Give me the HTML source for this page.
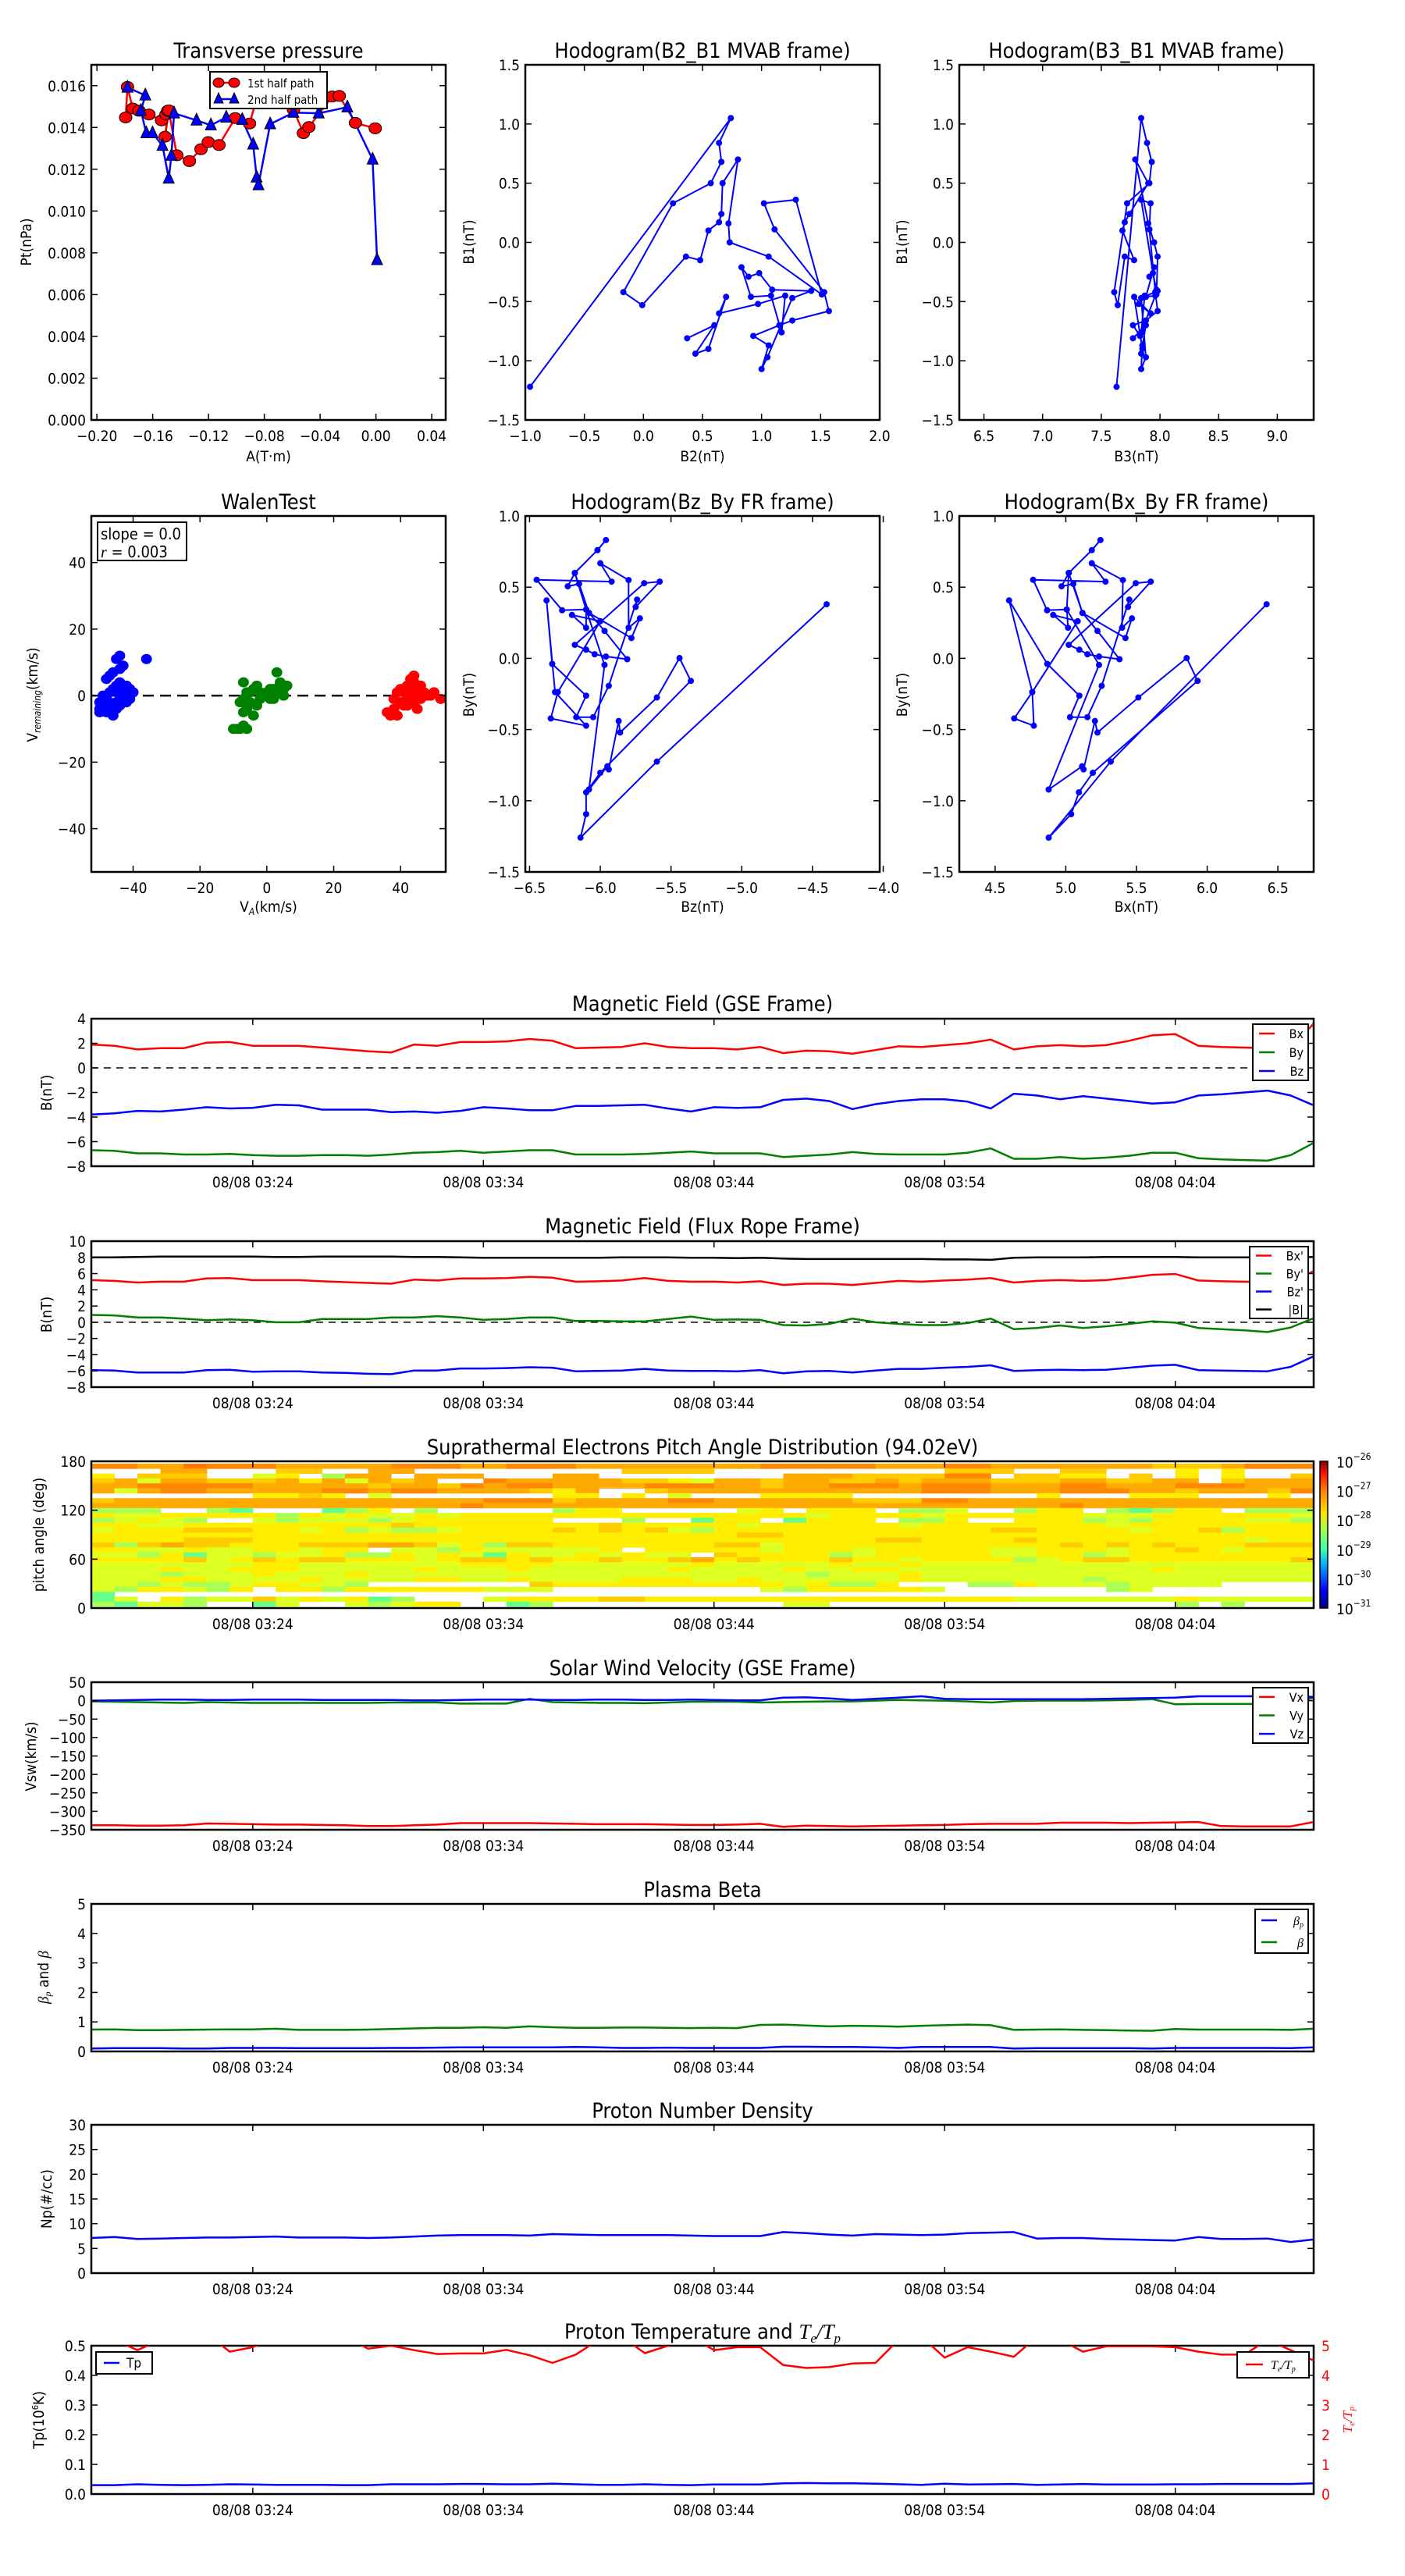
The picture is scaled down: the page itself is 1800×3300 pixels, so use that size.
<!DOCTYPE html>
<html><head><meta charset="utf-8">
<style>
html,body{margin:0;padding:0;background:#fff;}
svg{display:block;font-family:"DejaVu Sans Condensed","Liberation Sans Narrow","Liberation Sans",sans-serif;}
</style></head>
<body>
<svg id="fig" xmlns="http://www.w3.org/2000/svg" width="1800" height="3300" viewBox="0 0 1800 3300">
<rect width="1800" height="3300" fill="#fff"/>
</svg>
<script>
// ===== Data =====
const ptRedA=[-0.1794,-0.1781,-0.1743,-0.1698,-0.1627,-0.1537,-0.1505,-0.1492,-0.1511,-0.1485,-0.1427,-0.1337,-0.1254,-0.1202,-0.1125,-0.1009,-0.0906,-0.082,-0.0591,-0.0520,-0.0481,-0.0314,-0.0263,-0.0147,-0.0005];
const ptRedP=[0.01448,0.01594,0.01491,0.01480,0.01462,0.01434,0.01462,0.01480,0.01356,0.01482,0.01267,0.01239,0.01296,0.01330,0.01316,0.01445,0.01419,0.0162,0.01485,0.01373,0.01402,0.01548,0.01551,0.01422,0.01396];
const ptBlueA=[-0.1781,-0.1653,-0.1685,-0.1646,-0.1601,-0.1530,-0.1485,-0.1466,-0.1447,-0.1286,-0.1183,-0.1073,-0.0958,-0.0880,-0.0855,-0.0842,-0.0758,-0.0591,-0.0410,-0.0205,-0.0024,0.0008];
const ptBlueP=[0.01591,0.01554,0.01480,0.01373,0.01373,0.01313,0.01156,0.01265,0.01468,0.01434,0.01411,0.01448,0.01437,0.01319,0.01161,0.01124,0.01416,0.01471,0.01468,0.01497,0.01247,0.00766];

const mvB2=[-0.96,0.74,0.64,0.66,0.57,0.25,-0.17,-0.01,0.36,0.48,0.55,0.64,0.66,0.67,0.80,0.72,0.73,1.06,1.51,1.29,1.02,1.11,1.53,1.57,1.26,1.15,0.93,1.06,1.00,1.05,1.26,1.42,1.09,0.98,0.89,0.83,0.91,1.08,1.17,1.20,0.97,0.64,0.70,0.55,0.44,0.60,0.37];
const mvB1=[-1.22,1.05,0.84,0.68,0.50,0.33,-0.42,-0.53,-0.12,-0.15,0.10,0.17,0.24,0.50,0.70,0.16,0.00,-0.12,-0.44,0.36,0.33,0.11,-0.42,-0.58,-0.66,-0.70,-0.79,-0.87,-1.07,-0.97,-0.47,-0.41,-0.40,-0.26,-0.29,-0.21,-0.46,-0.45,-0.76,-0.45,-0.52,-0.60,-0.46,-0.90,-0.94,-0.70,-0.81];
const mvB3=[7.63,7.84,7.89,7.93,7.91,7.72,7.61,7.64,7.70,7.78,7.68,7.70,7.74,7.90,7.79,7.90,7.95,7.98,7.97,7.84,7.92,7.91,7.96,7.98,7.88,7.77,7.83,7.85,7.84,7.88,7.84,7.98,7.97,7.94,7.91,7.95,7.88,7.96,7.84,7.87,7.82,7.92,7.78,7.85,7.84,7.88,7.77];

const frHx=[5.245,5.184,5.021,4.970,5.053,5.118,5.224,5.380,5.235,5.153,5.096,5.021,5.495,5.601,5.440,5.449,5.254,5.153,5.030,5.096,4.869,4.599,4.763,4.774,4.635,4.763,5.084,4.911,5.016,5.007,4.868,4.769,5.281,5.184,5.404,5.398,5.468,5.422,5.118,5.021,5.007,5.235,4.879,5.115,5.126,5.206,5.224,5.513,5.855,5.932,5.191,5.093,5.038,4.879,5.318,6.420];
const frHy=[0.831,0.760,0.600,0.506,0.523,0.319,0.193,-0.006,0.013,0.029,0.061,0.095,0.528,0.539,0.361,0.413,-0.193,-0.413,-0.413,-0.262,-0.039,0.407,-0.237,-0.473,-0.422,-0.237,0.261,0.305,0.215,0.343,0.338,0.552,0.539,0.668,0.550,0.215,0.281,0.143,0.319,0.600,0.343,-0.046,-0.921,-0.758,-0.780,-0.440,-0.521,-0.275,0.002,-0.158,-0.804,-0.941,-1.094,-1.259,-0.725,0.380];
const frHz=[-5.96,-6.02,-6.18,-6.23,-6.15,-6.08,-5.97,-5.81,-5.96,-6.04,-6.10,-6.18,-5.69,-5.58,-5.75,-5.74,-5.94,-6.05,-6.17,-6.10,-6.34,-6.38,-6.32,-6.10,-6.35,-6.30,-6.00,-6.20,-6.10,-6.10,-6.27,-6.45,-5.92,-6.00,-5.80,-5.80,-5.72,-5.78,-6.08,-6.18,-6.10,-5.97,-6.08,-5.95,-5.94,-5.87,-5.86,-5.60,-5.44,-5.36,-6.00,-6.10,-6.10,-6.14,-5.60,-4.40];

const walBlueX=[-49,-48,-47,-50,-48,-47,-46,-45,-44,-44,-43,-45,-44,-43,-42,-41,-40,-36,-46,-47,-48,-45,-44,-42,-41,-50,-49,-46,-45,-43,-44,-47,-50,-46,-48];
const walBlueY=[-3,-1,-4,-2,5,6,7,11,12,8,9,-2,0,1,3,2,1,11,-6,-2,-5,-4,-3,-2,-1,-4,0,2,3,-1,4,1,-5,-3,-3];
const walGreenX=[-10,-9,-8,-7,-6,-7,-6,-7,-6,-7,-8,-5,-4,-3,-5,-4,-3,-2,-1,0,1,2,3,4,5,3,4,5,6,1,2,-2];
const walGreenY=[-10,-10,-10,-9,-10,-5,-4,4,1,-1,-2,-2,-6,-3,1,2,3,1,0,1,-1,2,1,3,2,7,4,0,3,2,-1,-1];
const walRedX=[36,37,38,39,38,40,41,42,43,43,44,45,44,42,45,46,47,48,44,43,41,42,46,49,52,50,39,44,40,45];
const walRedY=[-5,-6,-4,-6,-1,2,-3,0,2,5,4,1,-2,-3,2,3,1,0,-1,-2,1,3,-1,0,-1,1,1,6,-2,-4];

// time series: one sample per minute starting 03:17
const timeTickLabels=["08/08 03:24","08/08 03:34","08/08 03:44","08/08 03:54","08/08 04:04"];
const timeTickMin=[7,17,27,37,47];
const gseBx=[1.9,1.8,1.5,1.6,1.6,2.05,2.1,1.8,1.8,1.8,1.65,1.5,1.35,1.25,1.9,1.8,2.1,2.1,2.15,2.35,2.2,1.6,1.65,1.7,2.0,1.7,1.6,1.6,1.5,1.7,1.2,1.4,1.35,1.15,1.45,1.75,1.7,1.85,2.0,2.3,1.5,1.75,1.85,1.75,1.85,2.2,2.65,2.75,1.8,1.7,1.65,1.6,1.6,3.6];
const gseBy=[-6.7,-6.75,-6.95,-6.95,-7.05,-7.05,-7.0,-7.1,-7.15,-7.15,-7.1,-7.1,-7.15,-7.05,-6.9,-6.85,-6.75,-6.9,-6.8,-6.7,-6.7,-7.05,-7.05,-7.05,-7.0,-6.9,-6.8,-6.95,-6.95,-6.95,-7.25,-7.15,-7.05,-6.85,-7.0,-7.05,-7.05,-7.05,-6.9,-6.55,-7.4,-7.4,-7.25,-7.4,-7.3,-7.15,-6.9,-6.9,-7.35,-7.45,-7.5,-7.55,-7.1,-6.1];
const gseBz=[-3.8,-3.7,-3.5,-3.55,-3.4,-3.2,-3.3,-3.25,-3.0,-3.05,-3.4,-3.4,-3.4,-3.6,-3.55,-3.65,-3.5,-3.2,-3.3,-3.45,-3.45,-3.1,-3.1,-3.05,-3.0,-3.3,-3.55,-3.2,-3.25,-3.2,-2.6,-2.5,-2.7,-3.35,-2.95,-2.7,-2.55,-2.55,-2.75,-3.3,-2.1,-2.25,-2.55,-2.3,-2.5,-2.7,-2.9,-2.8,-2.25,-2.15,-2.0,-1.85,-2.25,-3.05];
const frBx=[5.2,5.1,4.9,5.0,5.0,5.4,5.45,5.2,5.2,5.2,5.05,4.95,4.85,4.75,5.25,5.15,5.4,5.4,5.45,5.6,5.5,5.0,5.05,5.15,5.45,5.1,5.0,5.0,4.9,5.05,4.6,4.75,4.75,4.6,4.85,5.1,5.0,5.15,5.25,5.45,4.9,5.1,5.2,5.1,5.2,5.5,5.85,5.95,5.15,5.05,5.0,4.95,4.9,6.3];
const frBy=[0.9,0.85,0.6,0.6,0.45,0.25,0.35,0.25,0.0,0.0,0.4,0.4,0.4,0.6,0.6,0.75,0.6,0.3,0.4,0.6,0.6,0.15,0.15,0.1,0.1,0.4,0.7,0.3,0.35,0.3,-0.35,-0.4,-0.2,0.45,0.0,-0.2,-0.35,-0.35,-0.1,0.45,-0.85,-0.7,-0.4,-0.7,-0.5,-0.2,0.1,-0.05,-0.7,-0.85,-1.0,-1.2,-0.65,0.5];
const frBz=[-5.9,-5.95,-6.2,-6.2,-6.2,-5.9,-5.85,-6.1,-6.05,-6.05,-6.2,-6.25,-6.35,-6.4,-5.95,-5.95,-5.7,-5.7,-5.65,-5.55,-5.6,-6.05,-6.0,-5.95,-5.75,-5.95,-6.0,-6.0,-6.05,-5.9,-6.3,-6.05,-6.0,-6.2,-5.95,-5.75,-5.75,-5.6,-5.5,-5.3,-6.0,-5.9,-5.85,-5.9,-5.85,-5.6,-5.35,-5.25,-5.9,-5.95,-6.0,-6.05,-5.5,-4.2];
const frBt=[8.0,8.0,8.05,8.1,8.1,8.1,8.1,8.1,8.05,8.05,8.1,8.1,8.1,8.1,8.05,8.05,8.0,7.95,7.95,7.95,7.95,7.95,7.95,8.0,8.0,8.0,7.95,7.95,7.9,7.95,7.85,7.8,7.8,7.8,7.8,7.8,7.8,7.75,7.75,7.7,7.95,8.0,8.0,8.0,8.05,8.05,8.05,8.05,8.0,8.0,8.0,8.0,8.0,8.05];
const swVx=[-338,-338,-339,-339,-338,-333,-334,-335,-336,-336,-337,-338,-340,-340,-338,-336,-332,-332,-332,-332,-333,-334,-335,-335,-335,-336,-337,-337,-336,-334,-342,-339,-340,-341,-340,-339,-338,-337,-335,-334,-334,-334,-331,-331,-331,-332,-331,-330,-329,-340,-341,-341,-341,-329];
const swVy=[-2,-3,-4,-5,-6,-4,-5,-6,-6,-6,-6,-6,-6,-5,-5,-5,-8,-8,-8,5,-4,-5,-6,-6,-7,-5,-3,-3,-3,-5,-4,-3,-2,-2,0,2,1,0,-2,-5,-1,0,0,0,1,2,4,-10,-9,-9,-9,-9,-9,8];
const swVz=[0,1,2,3,3,2,2,3,3,3,2,2,2,2,1,1,2,3,3,3,2,2,3,3,2,2,3,2,1,1,8,9,6,2,5,8,12,5,4,4,4,4,4,4,5,6,7,8,12,12,12,12,13,10];
const betaP=[0.10,0.11,0.11,0.11,0.10,0.10,0.12,0.12,0.12,0.11,0.11,0.11,0.11,0.12,0.12,0.13,0.14,0.14,0.14,0.14,0.14,0.15,0.14,0.12,0.12,0.13,0.12,0.12,0.12,0.12,0.16,0.16,0.15,0.15,0.14,0.12,0.15,0.15,0.15,0.15,0.10,0.11,0.11,0.11,0.11,0.11,0.10,0.12,0.12,0.12,0.12,0.12,0.11,0.14];
const betaT=[0.74,0.75,0.72,0.72,0.73,0.74,0.75,0.75,0.77,0.73,0.73,0.73,0.74,0.76,0.78,0.80,0.80,0.82,0.80,0.85,0.82,0.80,0.80,0.81,0.81,0.80,0.79,0.80,0.79,0.90,0.91,0.88,0.85,0.87,0.86,0.84,0.87,0.89,0.91,0.89,0.73,0.74,0.75,0.73,0.72,0.71,0.70,0.76,0.74,0.74,0.74,0.74,0.73,0.77];
const npVals=[7.1,7.3,6.9,7.0,7.1,7.2,7.2,7.3,7.4,7.2,7.2,7.2,7.1,7.2,7.4,7.6,7.7,7.7,7.7,7.6,7.9,7.8,7.7,7.7,7.7,7.7,7.6,7.5,7.5,7.5,8.3,8.1,7.8,7.6,7.9,7.8,7.7,7.8,8.1,8.2,8.3,7.0,7.1,7.1,6.9,6.8,6.7,6.6,7.3,6.9,6.9,7.0,6.3,6.8];
const tpVals=[0.030,0.030,0.033,0.031,0.030,0.031,0.033,0.032,0.031,0.031,0.031,0.030,0.030,0.033,0.033,0.033,0.034,0.034,0.033,0.033,0.035,0.033,0.031,0.031,0.033,0.031,0.030,0.032,0.032,0.032,0.036,0.037,0.036,0.036,0.035,0.033,0.031,0.035,0.032,0.033,0.034,0.031,0.032,0.034,0.032,0.032,0.032,0.033,0.033,0.034,0.034,0.034,0.034,0.036];
const teTpVals=[5.3,5.2,4.85,5.2,5.3,5.4,4.8,4.95,5.3,5.4,5.4,5.3,4.9,5.0,4.85,4.72,4.74,4.74,4.86,4.68,4.42,4.7,5.2,5.3,4.75,5.0,5.3,4.85,4.95,4.95,4.35,4.25,4.28,4.4,4.42,5.2,5.3,4.6,4.95,4.8,4.63,5.3,5.2,4.8,4.98,4.98,4.98,4.95,4.8,4.7,4.7,5.2,4.85,4.5];
// pitch angle distribution levels (0 = no data, 1..8 increasing flux), rows from 180 deg down
const padRows=[
"7766877766 6667776677 7666666667 7777666776 6666665556 777",
"0006600055 0066000000 0005555000 0000000555 0055000404 000",
"4055500340 2660666000 6600000000 6665555770 5544050404 005",
"5636655564 6365600766 6665543665 6655656665 5566556605 666",
"6677777666 6656657677 6666777665 6677767776 6677666777 666",
"6367766666 7767766665 4600566666 6666667776 6677766566 657",
"0000000445 4030000000 4404030004 4440000000 0400044400 040",
"5666666666 6666666777 5666677666 6665557766 6666666666 666",
"6666666666 6666667666 6666666666 6666666666 6676666666 666",
"2220021000 1240200000 2440000034 0444022300 2440212440 222",
"4334444424 3433434444 4444444444 4344443444 4443334444 443",
"2343200323 3323444444 0002001440 1444022400 4442324444 332",
"4433444444 4445444444 4454444434 4444434444 4444344444 444",
"3444555443 4232234444 5454532444 4444444445 5444434452 444",
"4444444444 4444444444 4444444455 4444444444 4444444444 444",
"4444555444 4444444444 4444444444 4444554444 5444444444 344",
"5256554445 5566534255 4444444553 4444444444 4454545444 555",
"4433433443 4403324333 3340444443 4443444443 3444344543 444",
"3324133233 4224343143 3434330544 4423444443 3442344444 444",
"4444534545 5444345545 4454456454 4454434444 2345544444 445",
"3333333443 3333334444 3333334333 3343343333 3333333333 333",
"3334334443 3333433343 3333343333 4334433333 3333334333 333",
"3332333433 3433333333 3333333333 3233343333 3333333333 333",
"3334433334 3333443343 3334443343 3333343333 3332333333 333",
"3323223443 3200000005 4444444444 3422400022 4333233330 000",
"3244324044 2444444333 0000000003 2444443000 0000230000 000",
"1000000000 0000000000 0000000000 0000000000 0000000000 000",
"1304233534 3412000344 4455444444 4444444444 3333333433 333",
"2133200130 0323440012 0000000000 3300000000 0000000202 000"];
const padColors=["#ffffff","#66ff88","#aaff55","#ddff22","#ffee00","#ffcc00","#ffaa00","#ff8800","#ff7700"];
const cbLabels=["−26","−27","−28","−29","−30","−31"];

// ===== helpers =====
const NS="http://www.w3.org/2000/svg";
const svg=document.getElementById('fig');
function el(tag,attrs,parent){const e=document.createElementNS(NS,tag);for(const k in attrs)e.setAttribute(k,attrs[k]);(parent||svg).appendChild(e);return e;}
function txt(s,x,y,size,anchor,parent,extra){const t=el('text',Object.assign({x:x,y:y,'font-size':size,'text-anchor':anchor||'middle',fill:'#000'},extra||{}),parent);t.textContent=s;return t;}
function fmt(v,d){const s=v.toFixed(d);return s.replace('-','−');}
let clipN=0;
function makeAxes(name,x0,y0,w,h,xl,yl){
  const g=el('g',{});
  
  
  const id='clip'+(clipN++);
  const cp=el('clipPath',{id:id},g);el('rect',{x:x0,y:y0,width:w,height:h},cp);
  const dg=el('g',{'clip-path':'url(#'+id+')'},g);
  return {g:g,dg:dg,x0:x0,y0:y0,w:w,h:h,
    X:v=>x0+(v-xl[0])/(xl[1]-xl[0])*w,
    Y:v=>y0+h-(v-yl[0])/(yl[1]-yl[0])*h};
}
function frame(a,xt,xlab,yt,ylab,opts){
  opts=opts||{};
  const g=a.g;
  el('rect',{x:a.x0,y:a.y0,width:a.w,height:a.h,fill:'none',stroke:'#000','stroke-width':2.5},g);
  const L=8;
  xt.forEach((v,i)=>{const x=a.X(v);
    el('line',{x1:x,y1:a.y0+a.h,x2:x,y2:a.y0+a.h-L,stroke:'#000','stroke-width':1.5},g);
    el('line',{x1:x,y1:a.y0,x2:x,y2:a.y0+L,stroke:'#000','stroke-width':1.5},g);
    const t=txt(xlab[i],x,a.y0+a.h+27,opts.fs||19,'middle',g);
    
    
  });
  yt.forEach((v,i)=>{const y=a.Y(v);
    el('line',{x1:a.x0,y1:y,x2:a.x0+L,y2:y,stroke:'#000','stroke-width':1.5},g);
    if(!opts.noRightTicks) el('line',{x1:a.x0+a.w,y1:y,x2:a.x0+a.w-L,y2:y,stroke:'#000','stroke-width':1.5},g);
    const t=txt(ylab[i],a.x0-7,y+7,opts.fs||19,'end',g);
    
    
  });
}
function poly(a,xs,ys,color,sw,dots){
  const pts=xs.map((v,i)=>a.X(v).toFixed(1)+','+a.Y(ys[i]).toFixed(1)).join(' ');
  const p=el('polyline',{points:pts,fill:'none',stroke:color,'stroke-width':sw||2.5,'stroke-linejoin':'round'},a.dg);
  
  
  if(dots) xs.forEach((v,i)=>{const c=el('circle',{cx:a.X(v),cy:a.Y(ys[i]),r:dots,fill:color},a.dg);
    
    });
  return p;
}
function title(s,x,y){const t=txt(s,x,y,27,'middle');return t;}
function ylabelT(s,x,y,size){const t=txt(s,x,y,size||19,'middle',null,{transform:'rotate(-90 '+x+' '+y+')'});return t;}
function xlabelT(s,x,y){const t=txt(s,x,y,19,'middle');return t;}
function range(a,b,s){const r=[];for(let v=a;v<=b+1e-9;v+=s)r.push(+v.toFixed(6));return r;}

// ===== Top row =====
// Transverse pressure
(function(){
  const a=makeAxes('transverse-pressure-plot',117,83,454,455,[-0.204,0.05],[0,0.017]);
  poly(a,ptRedA,ptRedP,'#ff0000',2.5);
  poly(a,ptBlueA,ptBlueP,'#0000ff',2.5);
  ptRedA.forEach((v,i)=>{const c=el('ellipse',{cx:a.X(v),cy:a.Y(ptRedP[i]),rx:8,ry:7,fill:'#ff0000',stroke:'#000','stroke-width':1},a.dg);
    
    });
  ptBlueA.forEach((v,i)=>{const x=a.X(v),y=a.Y(ptBlueP[i]);
    const t=el('polygon',{points:`${x},${y-9} ${x-7},${y+6} ${x+7},${y+6}`,fill:'#0000ff',stroke:'#000','stroke-width':1},a.dg);
    
    });
  frame(a,range(-0.2,0.04,0.04),['−0.20','−0.16','−0.12','−0.08','−0.04','0.00','0.04'],range(0,0.016,0.002),range(0,0.016,0.002).map(v=>v.toFixed(3)));
  const lg=el('g',{},a.g);
  
  
  el('rect',{x:269,y:92,width:150,height:47,fill:'#fff',stroke:'#000','stroke-width':2},lg);
  el('line',{x1:278,y1:106,x2:302,y2:106,stroke:'#f00','stroke-width':2.5},lg);
  el('ellipse',{cx:280,cy:106,rx:7,ry:6,fill:'#f00',stroke:'#000'},lg);el('ellipse',{cx:300,cy:106,rx:7,ry:6,fill:'#f00',stroke:'#000'},lg);
  txt('1st half path',317,112,15,'start',lg);
  el('line',{x1:278,y1:127,x2:302,y2:127,stroke:'#00f','stroke-width':2.5},lg);
  el('polygon',{points:'280,119 274,132 286,132',fill:'#00f',stroke:'#000'},lg);el('polygon',{points:'300,119 294,132 306,132',fill:'#00f',stroke:'#000'},lg);
  txt('2nd half path',317,133,15,'start',lg);
  title('Transverse pressure',344,74);
  ylabelT('Pt(nPa)',40,310);
  xlabelT('A(T·m)',344,591);
})();
(function(){
  const a=makeAxes('hodogram-b2-b1',673,83,454,455,[-1,2],[-1.5,1.5]);
  poly(a,mvB2,mvB1,'#0000ff',2,4);
  frame(a,range(-1,2,0.5),['−1.0','−0.5','0.0','0.5','1.0','1.5','2.0'],range(-1.5,1.5,0.5),['−1.5','−1.0','−0.5','0.0','0.5','1.0','1.5']);
  title('Hodogram(B2_B1 MVAB frame)',900,74);
  ylabelT('B1(nT)',607,310);
  xlabelT('B2(nT)',900,591);
})();
(function(){
  const a=makeAxes('hodogram-b3-b1',1229,83,454,455,[6.29,9.31],[-1.5,1.5]);
  poly(a,mvB3,mvB1,'#0000ff',2,4);
  frame(a,range(6.5,9,0.5),['6.5','7.0','7.5','8.0','8.5','9.0'],range(-1.5,1.5,0.5),['−1.5','−1.0','−0.5','0.0','0.5','1.0','1.5']);
  title('Hodogram(B3_B1 MVAB frame)',1456,74);
  ylabelT('B1(nT)',1162,310);
  xlabelT('B3(nT)',1456,591);
})();
// ===== Second row =====
(function(){
  const a=makeAxes('walen-test-plot',117,661,454,456,[-52.5,53.5],[-53,54]);
  el('line',{x1:117,y1:a.Y(0),x2:571,y2:a.Y(0),stroke:'#000','stroke-width':2.5,'stroke-dasharray':'14,8'},a.dg);
  [[walBlueX,walBlueY,'#0000ff'],[walGreenX,walGreenY,'#008000'],[walRedX,walRedY,'#ff0000']].forEach(s=>{
    s[0].forEach((v,i)=>{const c=el('ellipse',{cx:a.X(v),cy:a.Y(s[1][i]),rx:7,ry:6.5,fill:s[2]},a.dg);
      
      });
  });
  frame(a,[-40,-20,0,20,40],['−40','−20','0','20','40'],[-40,-20,0,20,40],['−40','−20','0','20','40']);
  const bx=el('g',{},a.g);
  
  
  el('rect',{x:125,y:669,width:114,height:49,fill:'#fff',stroke:'#000','stroke-width':2},bx);
  txt('slope = 0.0',129,691,20,'start',bx);
  txt('r = 0.003',129,714,20,'start',bx).innerHTML='<tspan font-style="italic" font-family="Liberation Serif">r</tspan> = 0.003';
  title('WalenTest',344,652);
  const yl=ylabelT('',48,890);yl.innerHTML='V<tspan font-size="12" dy="4" font-style="italic">remaining</tspan><tspan dy="-4">(km/s)</tspan>';
  const xl=xlabelT('',344,1168);xl.innerHTML='V<tspan font-size="12" dy="4" font-style="italic">A</tspan><tspan dy="-4">(km/s)</tspan>';
})();
(function(){
  const a=makeAxes('hodogram-bz-by',673,661,454,456,[-6.53,-4.025],[-1.5,1.0]);
  poly(a,frHz,frHy,'#0000ff',2,4);
  frame(a,range(-6.5,-4,0.5),['−6.5','−6.0','−5.5','−5.0','−4.5','−4.0'],range(-1.5,1,0.5),['−1.5','−1.0','−0.5','0.0','0.5','1.0']);
  title('Hodogram(Bz_By FR frame)',900,652);
  ylabelT('By(nT)',607,890);
  xlabelT('Bz(nT)',900,1168);
})();
(function(){
  const a=makeAxes('hodogram-bx-by',1229,661,454,456,[4.247,6.753],[-1.5,1.0]);
  poly(a,frHx,frHy,'#0000ff',2,4);
  frame(a,range(4.5,6.5,0.5),['4.5','5.0','5.5','6.0','6.5'],range(-1.5,1,0.5),['−1.5','−1.0','−0.5','0.0','0.5','1.0']);
  title('Hodogram(Bx_By FR frame)',1456,652);
  ylabelT('By(nT)',1162,890);
  xlabelT('Bx(nT)',1456,1168);
})();

// ===== Time series =====
const TX0=117,TW=1566;
const tIdx=gseBx.map((_,i)=>i);
function tsAxes(name,y0,h,yl){return makeAxes(name,TX0,y0,TW,h,[0,53],yl);}
function tsFrame(a,yt,ylab){frame(a,timeTickMin,timeTickLabels,yt,ylab);}
function legend(name,x,y,w,h,items){
  const g=el('g',{});
  
  
  el('rect',{x:x,y:y,width:w,height:h,fill:'#fff',stroke:'#000','stroke-width':2},g);
  const step=h/items.length;
  items.forEach((it,i)=>{const cy=y+step*(i+0.5);
    el('line',{x1:x+8,y1:cy,x2:x+28,y2:cy,stroke:it[1],'stroke-width':2.5},g);
    const t=txt('',x+w-6,cy+6,16,'end',g);t.innerHTML=it[0];
  });
}
// GSE
(function(){
  const a=tsAxes('gse-field-plot',1305,189,[-8,4]);
  el('line',{x1:TX0,y1:a.Y(0),x2:TX0+TW,y2:a.Y(0),stroke:'#000','stroke-width':1.5,'stroke-dasharray':'9,7'},a.dg);
  poly(a,tIdx,gseBx,'#ff0000');poly(a,tIdx,gseBy,'#008000');poly(a,tIdx,gseBz,'#0000ff');
  tsFrame(a,range(-8,4,2),['−8','−6','−4','−2','0','2','4']);
  legend('gse-legend',1605,1312,71,72,[['Bx','#f00'],['By','#008000'],['Bz','#00f']]);
  title('Magnetic Field (GSE Frame)',900,1295);
  ylabelT('B(nT)',66,1400);
})();
// FR
(function(){
  const a=tsAxes('flux-rope-field-plot',1590,187,[-8,10]);
  el('line',{x1:TX0,y1:a.Y(0),x2:TX0+TW,y2:a.Y(0),stroke:'#000','stroke-width':1.5,'stroke-dasharray':'9,7'},a.dg);
  poly(a,tIdx,frBx,'#ff0000');poly(a,tIdx,frBy,'#008000');poly(a,tIdx,frBz,'#0000ff');poly(a,tIdx,frBt,'#000000');
  tsFrame(a,range(-8,10,2),['−8','−6','−4','−2','0','2','4','6','8','10']);
  legend('flux-rope-legend',1601,1597,75,92,[["Bx'",'#f00'],["By'",'#008000'],["Bz'",'#00f'],['|B|','#000']]);
  title('Magnetic Field (Flux Rope Frame)',900,1580);
  ylabelT('B(nT)',66,1684);
})();
// PAD
(function(){
  const a=tsAxes('pitch-angle-heatmap',1872,188,[0,180]);
  const nr=padRows.length, rh=183/nr, cw=TW/53;
  padRows.forEach((row,r)=>{const s=row.replace(/ /g,'');
    for(let c=0;c<53;c++){const lv=+(s[c]||0);if(!lv)continue;
      const x=a.X(c);
      const rc=el('rect',{x:x.toFixed(1),y:(1875+r*rh).toFixed(1),width:(cw+0.6).toFixed(1),height:(rh+0.4).toFixed(1),fill:padColors[lv]},a.dg);
      
      }
  });
  tsFrame(a,[0,60,120,180],['0','60','120','180']);
  // colorbar
  const defs=el('defs',{});
  const lg=el('linearGradient',{id:'jet',x1:0,y1:1,x2:0,y2:0},defs);
  [['0','#00007f'],['0.12','#0000ff'],['0.3','#00b0ff'],['0.4','#40ffb0'],['0.55','#b0ff40'],['0.65','#ffe000'],['0.8','#ff8000'],['0.92','#ff1000'],['1','#7f0000']].forEach(s=>el('stop',{offset:s[0],'stop-color':s[1]},lg));
  const cb=el('rect',{x:1691,y:1872,width:10,height:188,fill:'url(#jet)',stroke:'#000','stroke-width':1.5});
  
  
  cbLabels.forEach((l,i)=>{const y=1872+i*188/5;
    const t=txt('',1712,y+8,19,'start');t.innerHTML='10<tspan font-size="12" dy="-10">'+l+'</tspan>';
    
    });
  title('Suprathermal Electrons Pitch Angle Distribution (94.02eV)',900,1863);
  ylabelT('pitch angle (deg)',56,1966);
})();
// SW velocity
(function(){
  const a=tsAxes('solar-wind-velocity-plot',2155,189,[-350,50]);
  poly(a,tIdx,swVx,'#ff0000');poly(a,tIdx,swVy,'#008000');poly(a,tIdx,swVz,'#0000ff');
  tsFrame(a,range(-350,50,50),['−350','−300','−250','−200','−150','−100','−50','0','50']);
  legend('velocity-legend',1605,2162,71,71,[['Vx','#f00'],['Vy','#008000'],['Vz','#00f']]);
  title('Solar Wind Velocity (GSE Frame)',900,2146);
  ylabelT('Vsw(km/s)',46,2250);
})();
// Beta
(function(){
  const a=tsAxes('plasma-beta-plot',2439,189,[0,5]);
  poly(a,tIdx,betaP,'#0000ff');poly(a,tIdx,betaT,'#008000');
  tsFrame(a,range(0,5,1),['0','1','2','3','4','5']);
  legend('beta-legend',1608,2446,68,56,[['<tspan font-style="italic" font-family="Liberation Serif">β<tspan font-size="10" dy="3">p</tspan></tspan>','#00f'],['<tspan font-style="italic" font-family="Liberation Serif">β</tspan>','#008000']]);
  title('Plasma Beta',900,2430);
  const t=ylabelT('',62,2533);t.innerHTML='<tspan font-style="italic" font-family="Liberation Serif">β<tspan font-size="12" dy="3">p</tspan></tspan><tspan dy="-3"> and </tspan><tspan font-style="italic" font-family="Liberation Serif">β</tspan>';
})();
// Np
(function(){
  const a=tsAxes('proton-density-plot',2722,190,[0,30]);
  poly(a,tIdx,npVals,'#0000ff');
  tsFrame(a,range(0,30,5),['0','5','10','15','20','25','30']);
  title('Proton Number Density',900,2713);
  ylabelT('Np(#/cc)',66,2817);
})();
// Tp
(function(){
  const a=tsAxes('proton-temperature-plot',3005,190,[0,0.5]);
  const a2=makeAxes('te-tp-axis',TX0,3005,TW,190,[0,53],[0,5]);
  poly(a2,tIdx,teTpVals,'#ff0000');
  poly(a,tIdx,tpVals,'#0000ff');
  frame(a,timeTickMin,timeTickLabels,range(0,0.5,0.1),['0.0','0.1','0.2','0.3','0.4','0.5'],{noRightTicks:true});
  [0,1,2,3,4,5].forEach(v=>{const y=a2.Y(v);
    el('line',{x1:TX0+TW,y1:y,x2:TX0+TW-8,y2:y,stroke:'#000','stroke-width':1.5});
    const t=txt(String(v),1693,y+7,19,'start',null,{fill:'#ff0000'});
    
    });
  const l1=el('g',{});
  
  
  el('rect',{x:123,y:3013,width:72,height:28,fill:'#fff',stroke:'#000','stroke-width':2},l1);
  el('line',{x1:133,y1:3027,x2:153,y2:3027,stroke:'#00f','stroke-width':2.5},l1);
  txt('Tp',162,3033,17,'start',l1);
  const l2=el('g',{});
  
  
  el('rect',{x:1585,y:3013,width:92,height:33,fill:'#fff',stroke:'#000','stroke-width':2},l2);
  el('line',{x1:1596,y1:3029,x2:1618,y2:3029,stroke:'#f00','stroke-width':2.5},l2);
  const lt=txt('',1628,3035,16,'start',l2);lt.innerHTML='<tspan font-style="italic" font-family="Liberation Serif">T<tspan font-size="10" dy="3">e</tspan><tspan dy="-3">/T</tspan><tspan font-size="10" dy="3">p</tspan></tspan>';
  const tt=title('',900,2996);tt.innerHTML='Proton Temperature and <tspan font-style="italic" font-family="Liberation Serif">T<tspan font-size="17" dy="5">e</tspan><tspan dy="-5">/T</tspan><tspan font-size="17" dy="5">p</tspan></tspan>';
  const yl=ylabelT('',56,3100);yl.innerHTML='Tp(10<tspan font-size="11" dy="-7">6</tspan><tspan dy="7">K)</tspan>';
  const yr=txt('',1732,3100,17,'middle',null,{fill:'#ff0000',transform:'rotate(-90 1732 3100)'});
  yr.innerHTML='<tspan font-style="italic" font-family="Liberation Serif">T<tspan font-size="11" dy="3">e</tspan><tspan dy="-3">/T</tspan><tspan font-size="11" dy="3">p</tspan></tspan>';
  
  
})();
</script>
</body></html>
